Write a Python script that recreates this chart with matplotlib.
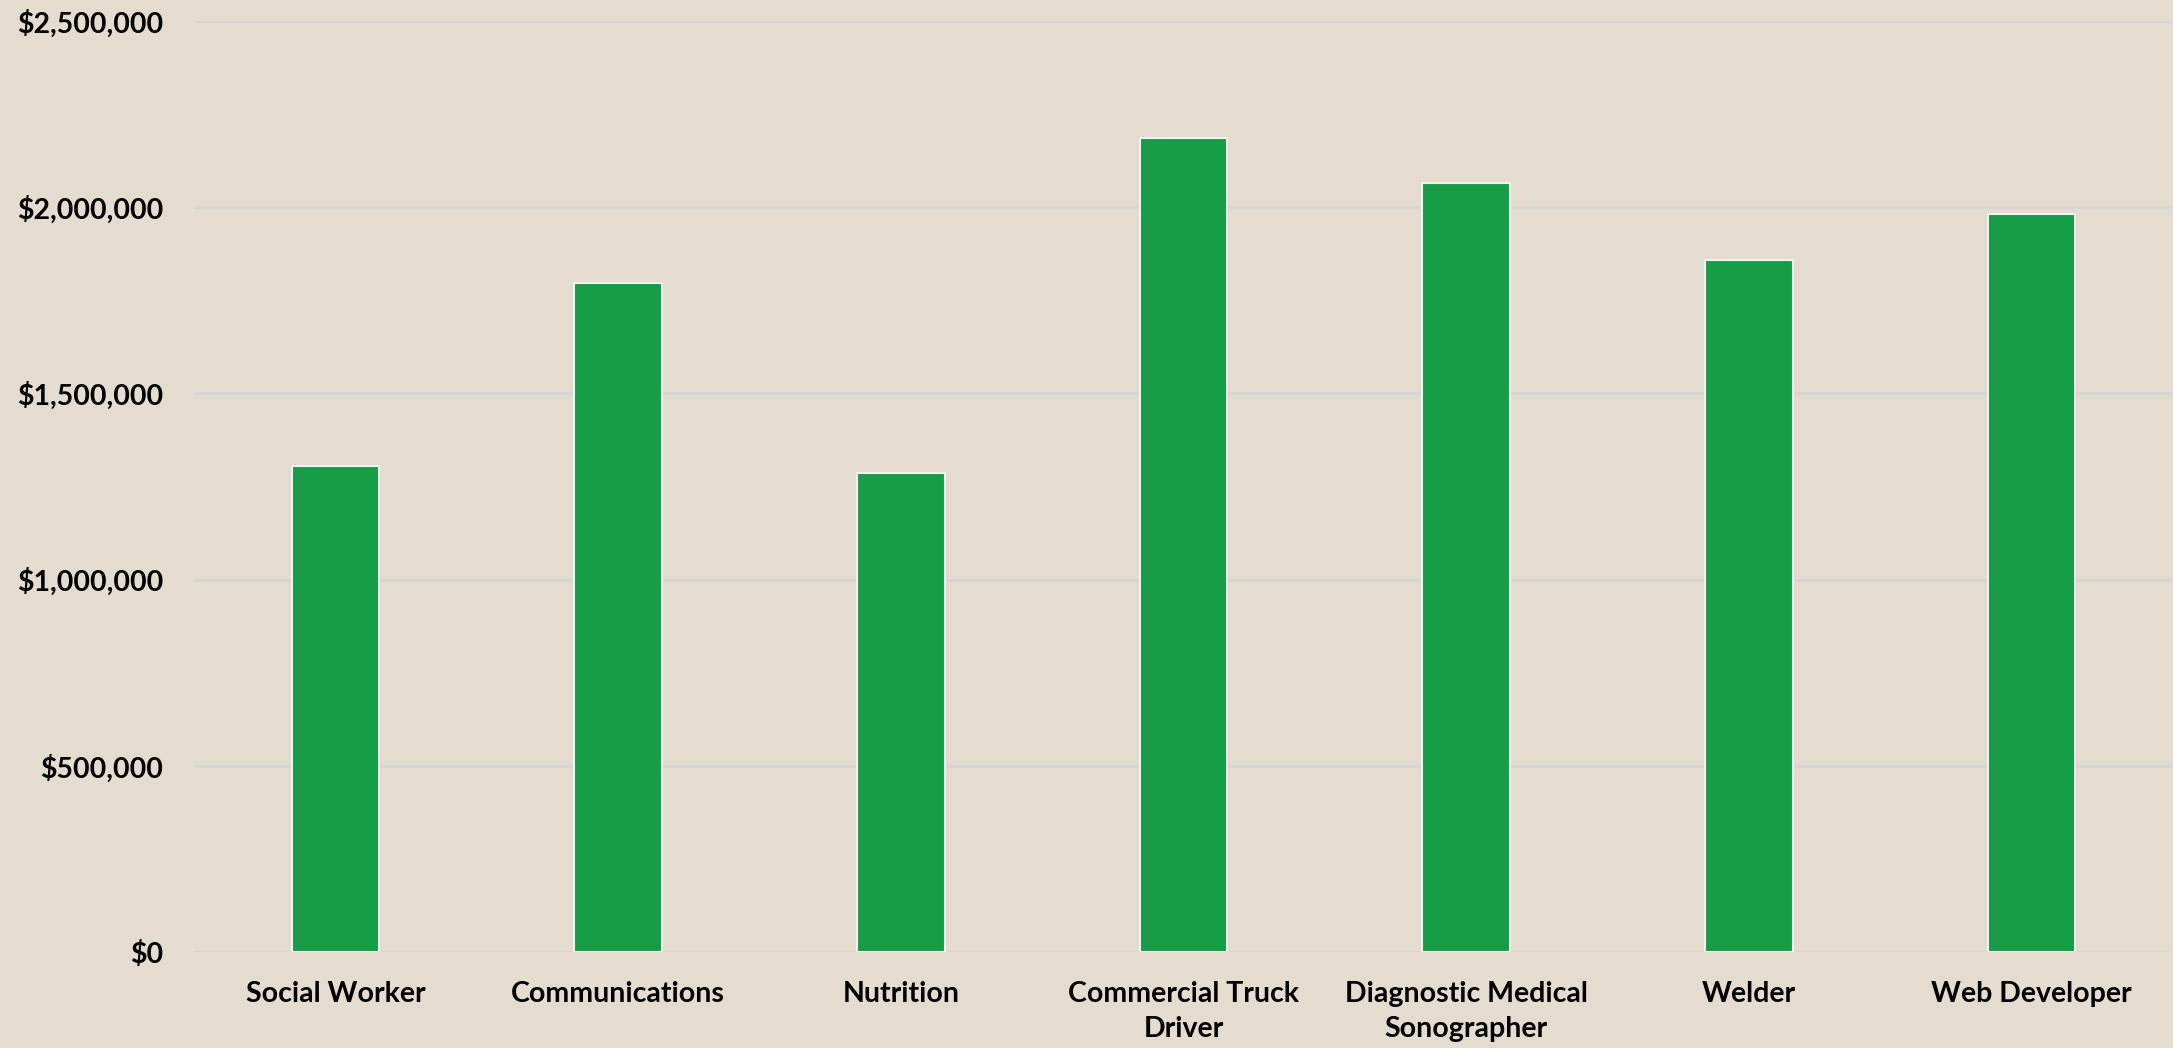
import matplotlib
matplotlib.use("Agg")
import matplotlib.pyplot as plt
from matplotlib.ticker import FuncFormatter, MultipleLocator

categories = ["Social Worker", "Communications", "Nutrition", "Commercial Truck\nDriver",
              "Diagnostic Medical\nSonographer", "Welder", "Web Developer"]
values = [1305000, 1796000, 1287000, 2187000, 2066000, 1857000, 1982000]

bg = "#E4DCCE"
bar_color = "#179C47"

plt.rcParams['font.family'] = ['Lato', 'DejaVu Sans']

fig = plt.figure(figsize=(21.73, 10.48), dpi=100, facecolor=bg)
ax = fig.add_axes([194 / 2173, 96 / 1048, 1 - 194 / 2173, (952 - 21) / 1048])
ax.set_facecolor(bg)

x = list(range(len(categories)))
ax.bar(x, values, width=0.31, color=bar_color, edgecolor="#F2F2F2", linewidth=1.5, zorder=3)

ax.set_xlim(-0.5, len(categories) - 0.5)
ax.set_ylim(0, 2500000)
ax.yaxis.set_major_locator(MultipleLocator(500000))
ax.yaxis.set_major_formatter(FuncFormatter(lambda v, p: f"${v:,.0f}"))
ax.grid(axis="y", color="#D6D6D6", linewidth=2.2, zorder=0)
ax.set_axisbelow(True)
for s in ax.spines.values():
    s.set_visible(False)

ax.set_xticks(x)
ax.set_xticklabels(categories, fontsize=20.5, fontweight="bold", linespacing=1.42)
ax.tick_params(axis="x", length=0, pad=21)
ax.tick_params(axis="y", length=0, pad=22, labelsize=20.5)
for t in ax.get_yticklabels():
    t.set_fontweight("bold")

fig.savefig("out.png", dpi=100, facecolor=bg)
